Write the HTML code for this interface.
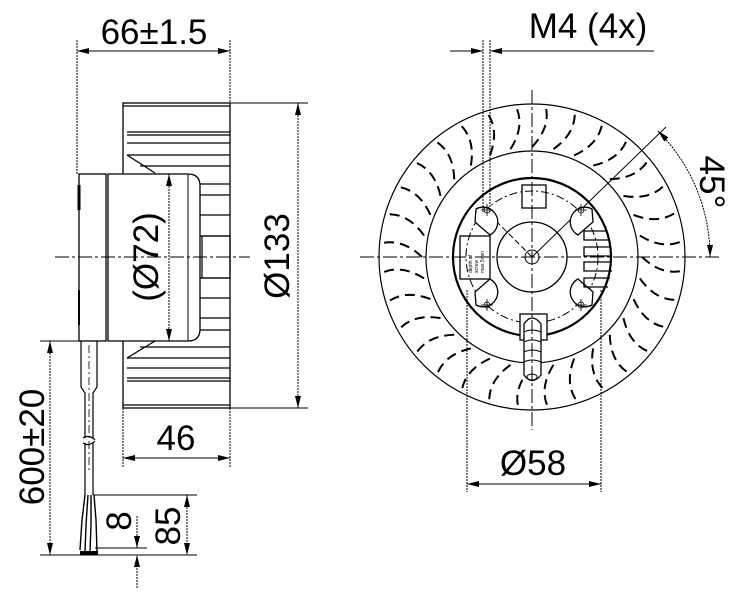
<!DOCTYPE html>
<html><head><meta charset="utf-8"><style>
html,body{margin:0;padding:0;background:#fff;width:741px;height:594px;overflow:hidden}
svg{display:block}
text{font-family:"Liberation Sans",Arial,sans-serif;fill:#000}
</style></head><body>
<svg width="741" height="594" viewBox="0 0 741 594" xmlns="http://www.w3.org/2000/svg">
<defs>
<marker id="a" viewBox="0 0 12 6" refX="12" refY="3" markerWidth="12" markerHeight="6" orient="auto-start-reverse" markerUnits="userSpaceOnUse"><path d="M0,0 L12,3 L0,6 z" fill="#000"/></marker>
<path id="blade" d="M532,147 Q550,128 546,108" fill="none" stroke="#000" stroke-width="2" stroke-dasharray="10 6"/>
</defs>
<g stroke="#000" fill="none" stroke-width="1">
<!-- ===== LEFT VIEW ===== -->
<line x1="77" y1="40" x2="77" y2="175" stroke-dasharray="2 1"/>
<line x1="230" y1="40" x2="230" y2="103" stroke-dasharray="2 1"/>
<line x1="77" y1="51" x2="230" y2="51" marker-start="url(#a)" marker-end="url(#a)"/>
<rect x="123" y="103" width="107" height="305" stroke-width="1.3"/>
<g stroke-width="1.2">
<line x1="123" y1="106" x2="230" y2="106"/>
<line x1="127" y1="132" x2="230" y2="132"/>
<line x1="127" y1="135" x2="230" y2="135"/>
<line x1="127" y1="143" x2="230" y2="143"/>
<line x1="127" y1="155" x2="230" y2="155"/>
<line x1="140" y1="166" x2="230" y2="166"/>
<line x1="127" y1="155" x2="155" y2="173"/>
<line x1="200" y1="184" x2="230" y2="184"/>
<line x1="200" y1="195" x2="230" y2="195"/>
<line x1="200" y1="215" x2="230" y2="215"/>
<line x1="200" y1="236" x2="230" y2="236"/>
<rect x="202" y="236" width="28" height="42"/>
<line x1="200" y1="278" x2="230" y2="278"/>
<line x1="200" y1="298" x2="230" y2="298"/>
<line x1="200" y1="318" x2="230" y2="318"/>
<line x1="200" y1="330" x2="230" y2="330"/>
<line x1="140" y1="347" x2="230" y2="347"/>
<line x1="127" y1="358" x2="155" y2="341"/>
<line x1="127" y1="358" x2="230" y2="358"/>
<line x1="127" y1="368" x2="230" y2="368"/>
<line x1="127" y1="378" x2="230" y2="378"/>
<line x1="127" y1="381" x2="230" y2="381"/>
<line x1="123" y1="405" x2="230" y2="405"/>
</g>
<rect x="79" y="174" width="27" height="167" fill="#fff" stroke-width="1.3"/>
<path d="M108,174 H188 Q200,174 200,186 V329 Q200,341 188,341 H108 Z" fill="#fff" stroke-width="1.3"/>
<line x1="188" y1="174" x2="188" y2="341"/>
<line x1="79" y1="185" x2="79" y2="210" stroke-width="3"/>
<line x1="79" y1="290" x2="79" y2="325" stroke-width="2"/>
<line x1="55" y1="257" x2="250" y2="257" stroke-dasharray="14 3 3 3"/>
<line x1="169" y1="174" x2="169" y2="341" stroke-dasharray="2 1" marker-start="url(#a)" marker-end="url(#a)"/>
<line x1="230" y1="103" x2="308" y2="103"/>
<line x1="230" y1="408" x2="308" y2="408"/>
<line x1="298" y1="103" x2="298" y2="408" stroke-dasharray="2 1" marker-start="url(#a)" marker-end="url(#a)"/>
<line x1="123" y1="408" x2="123" y2="468" stroke-dasharray="2 1"/>
<line x1="230" y1="408" x2="230" y2="468" stroke-dasharray="2 1"/>
<line x1="123" y1="458" x2="230" y2="458" marker-start="url(#a)" marker-end="url(#a)"/>
<path d="M81,341 V387 L85,393 V438 M97,341 V387 L93,393 V438" stroke-width="1.2"/>
<line x1="89" y1="345" x2="89" y2="470" stroke-dasharray="8 3 2 3" stroke-width="0.8"/>
<path d="M85,443 V495 M93,443 V495 M83,438 Q89,434 95,440 M83,443 Q89,447 95,441" stroke-width="1.2"/>
<path d="M85,495 L82,520 L80,550 M88,495 L86,525 L85,552 M91,495 L91,525 L90,552 M94,495 L96,520 L97,552" stroke-width="1.4"/>
<rect x="80" y="551" width="18" height="4" fill="#000" stroke="none"/>
<line x1="40" y1="341" x2="81" y2="341"/>
<line x1="40" y1="555" x2="197" y2="555"/>
<line x1="50" y1="341" x2="50" y2="555" stroke-dasharray="2 1" marker-start="url(#a)" marker-end="url(#a)"/>
<line x1="93" y1="495" x2="197" y2="495"/>
<line x1="187" y1="495" x2="187" y2="555" stroke-dasharray="2 1" marker-start="url(#a)" marker-end="url(#a)"/>
<line x1="95" y1="548" x2="147" y2="548"/>
<line x1="137" y1="516" x2="137" y2="548" stroke-dasharray="2 1" marker-end="url(#a)"/>
<line x1="137" y1="588" x2="137" y2="555" stroke-dasharray="2 1" marker-end="url(#a)"/>

<!-- ===== RIGHT VIEW ===== -->
<circle cx="532" cy="257" r="153" stroke-width="1.2"/>
<circle cx="532" cy="257" r="106" stroke-width="1.2"/>
<g>
<use href="#blade" transform="rotate(0 532 257)"/><use href="#blade" transform="rotate(11.25 532 257)"/><use href="#blade" transform="rotate(22.5 532 257)"/><use href="#blade" transform="rotate(33.75 532 257)"/><use href="#blade" transform="rotate(45 532 257)"/><use href="#blade" transform="rotate(56.25 532 257)"/><use href="#blade" transform="rotate(67.5 532 257)"/><use href="#blade" transform="rotate(78.75 532 257)"/><use href="#blade" transform="rotate(90 532 257)"/><use href="#blade" transform="rotate(101.25 532 257)"/><use href="#blade" transform="rotate(112.5 532 257)"/><use href="#blade" transform="rotate(123.75 532 257)"/><use href="#blade" transform="rotate(135 532 257)"/><use href="#blade" transform="rotate(146.25 532 257)"/><use href="#blade" transform="rotate(157.5 532 257)"/><use href="#blade" transform="rotate(168.75 532 257)"/><use href="#blade" transform="rotate(180 532 257)"/><use href="#blade" transform="rotate(191.25 532 257)"/><use href="#blade" transform="rotate(202.5 532 257)"/><use href="#blade" transform="rotate(213.75 532 257)"/><use href="#blade" transform="rotate(225 532 257)"/><use href="#blade" transform="rotate(236.25 532 257)"/><use href="#blade" transform="rotate(247.5 532 257)"/><use href="#blade" transform="rotate(258.75 532 257)"/><use href="#blade" transform="rotate(270 532 257)"/><use href="#blade" transform="rotate(281.25 532 257)"/><use href="#blade" transform="rotate(292.5 532 257)"/><use href="#blade" transform="rotate(303.75 532 257)"/><use href="#blade" transform="rotate(315 532 257)"/><use href="#blade" transform="rotate(326.25 532 257)"/><use href="#blade" transform="rotate(337.5 532 257)"/><use href="#blade" transform="rotate(348.75 532 257)"/>
</g>
<circle cx="532" cy="257" r="79" stroke-width="2.2" fill="#fff"/>
<circle cx="532" cy="257" r="66" stroke-dasharray="8 3 2 3"/>
<circle cx="532" cy="257" r="35" stroke-width="1.3"/>
<circle cx="532" cy="257" r="7"/>
<line x1="532" y1="257" x2="485" y2="210" stroke-dasharray="6 3"/>
<line x1="532" y1="257" x2="666" y2="127"/>
<g stroke-width="1.3" fill="#fff">
<path d="M475,222 L490,235 A14,14 0 1 0 476,209 Z"/>
<path d="M593,222 L578,235 A14,14 0 1 1 592,209 Z"/>
<path d="M475,292 L490,279 A14,14 0 1 1 476,305 Z"/>
<path d="M593,292 L578,279 A14,14 0 1 0 592,305 Z"/>
</g>
<g stroke-width="0.8">
<circle cx="487" cy="210" r="3"/><circle cx="581" cy="210" r="3"/><circle cx="487" cy="305" r="3"/><circle cx="581" cy="305" r="3"/>
<path d="M481,210h12M487,204v12M575,210h12M581,204v12M481,305h12M487,299v12M575,305h12M581,299v12"/>
</g>
<rect x="522" y="185" width="24" height="23" stroke-width="1.3"/>
<rect x="460" y="236" width="30" height="43" stroke-width="1.3"/>
<text x="0" y="0" font-size="5" transform="translate(472,273) rotate(-90)" stroke="none">depth of</text>
<text x="0" y="0" font-size="5" transform="translate(478,273) rotate(-90)" stroke="none">screw</text>
<text x="0" y="0" font-size="5" transform="translate(484,273) rotate(-90)" stroke="none">max.5mm</text>
<path d="M606,231 H584 V240 H610 M610,247 H584 V256 H612 M612,262 H584 V271 H612 M610,278 H584 V287 H608" stroke-width="1.3"/>
<rect x="520" y="314" width="27" height="26" fill="#fff" stroke-width="1.3"/>
<path d="M524,324 Q532,312 541,324 V375 Q532,386 524,375 Z" fill="#fff" stroke-width="1.3"/>
<path d="M524,332 Q532,328 541,332 M524,342 Q532,338 541,342 M524,352 Q532,348 541,352 M524,362 Q532,358 541,362"/>
<ellipse cx="532" cy="377" rx="5" ry="3"/>
<line x1="360" y1="257" x2="720" y2="257" stroke-dasharray="14 3 3 3"/>
<line x1="532" y1="90" x2="532" y2="430" stroke-dasharray="14 3 3 3"/>
<line x1="483" y1="40" x2="483" y2="212" stroke-dasharray="2 1"/>
<line x1="490" y1="40" x2="490" y2="212" stroke-dasharray="2 1"/>
<line x1="450" y1="51" x2="483" y2="51" marker-end="url(#a)"/>
<line x1="654" y1="51" x2="490" y2="51" marker-end="url(#a)"/>
<path d="M658,131 A178,178 0 0 1 710,257" stroke-dasharray="2 1" marker-start="url(#a)" marker-end="url(#a)"/>
<line x1="467" y1="290" x2="467" y2="492" stroke-dasharray="2 1"/>
<line x1="601" y1="290" x2="601" y2="492" stroke-dasharray="2 1"/>
<line x1="467" y1="484" x2="601" y2="484" marker-start="url(#a)" marker-end="url(#a)"/>
</g>
<text x="154" y="44" font-size="35" text-anchor="middle">66±1.5</text>
<text font-size="35" text-anchor="middle" transform="translate(158,257) rotate(-90)">(Ø72)</text>
<text font-size="35" text-anchor="middle" transform="translate(289,256) rotate(-90)">Ø133</text>
<text x="176" y="450" font-size="35" text-anchor="middle">46</text>
<text font-size="35" text-anchor="middle" transform="translate(44,447) rotate(-90)">600±20</text>
<text font-size="35" text-anchor="middle" transform="translate(180,526) rotate(-90)">85</text>
<text font-size="35" text-anchor="middle" transform="translate(131,521) rotate(-90)">8</text>
<text x="588" y="38" font-size="35" text-anchor="middle">M4 (4x)</text>
<text font-size="35" text-anchor="middle" transform="translate(700,182) rotate(90)">45°</text>
<text x="533" y="475" font-size="35" text-anchor="middle">Ø58</text>
</svg>
</body></html>
